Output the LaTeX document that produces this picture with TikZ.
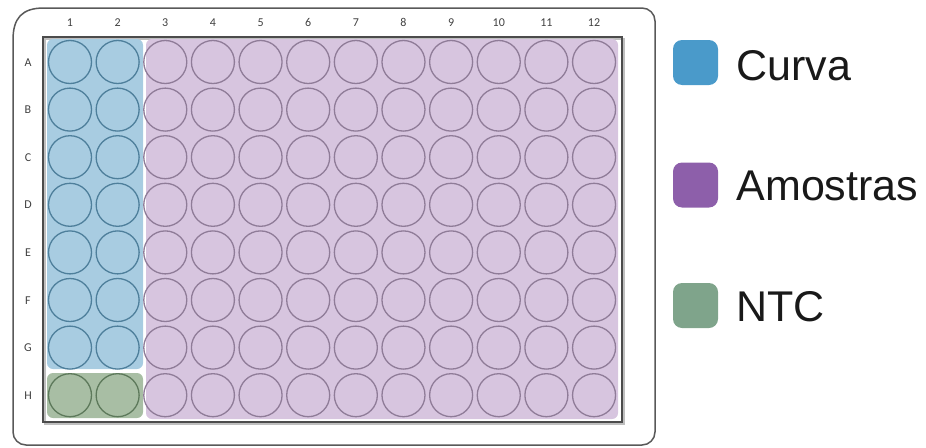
\documentclass[tikz,border=0pt]{standalone}
\usepackage{fontspec}
\setmainfont{Liberation Sans}
\newfontfamily\labfont{Carlito}
\begin{document}
\begin{tikzpicture}[x=1pt,y=-1pt,
  well/.style={circle,draw,line width=1.3pt,minimum size=43pt,inner sep=0pt},
  bluewell/.style={well,draw=wellblue},
  greenwell/.style={well,draw=wellgreen},
  purplewell/.style={well,draw=wellpurple},
  lab/.style={font=\labfont\fontsize{12}{13}\selectfont,text=black!75,text height=8pt,text depth=0pt},
  legbox/.style={rectangle,rounded corners=9pt,minimum size=45pt,inner sep=0pt},
  legtext/.style={anchor=west,font=\fontsize{43}{46}\selectfont,text=black!90}]
\definecolor{regblue}{HTML}{A8CCE1}
\definecolor{reggreen}{HTML}{A8BEA4}
\definecolor{regpurple}{HTML}{D7C5DF}
\definecolor{wellblue}{HTML}{4E7F9B}
\definecolor{wellgreen}{HTML}{5D795B}
\definecolor{wellpurple}{HTML}{8F7C98}
\definecolor{legblue}{HTML}{4A9ACA}
\definecolor{legpurple}{HTML}{8D5FAA}
\definecolor{leggreen}{HTML}{7FA48B}
\useasboundingbox (0,0) rectangle (926,447);
% outer frame
\draw[line width=1.5pt,draw=black!65]
  (13,40) .. controls (13,18) and (22,8) .. (44,8)
  [rounded corners=13pt] -- (655,8) -- (655,445) -- (13,445) -- (13,40);
% inner plate rectangle with shadow
\draw[line width=2pt,draw=black!25] (45,39) rectangle (624,424);
\draw[line width=1.4pt,draw=black!70] (43,37) rectangle (622,422);
% regions
\fill[regblue,rounded corners=6pt] (47,39) rectangle (143,369);
\fill[reggreen,rounded corners=6pt] (47,373) rectangle (143,418);
\fill[regpurple,rounded corners=6pt] (146,39) rectangle (618,419);
% column labels
\foreach \c in {1,...,12}{
  \node[lab] (col\c) at ({70+(\c-1)*47.64},22) {\c};
}
% row labels and wells
\foreach \r [count=\i from 0] in {A,B,C,D,E,F,G,H}{
  \node[lab] (row\r) at (28,{62+\i*47.6}) {\r};
  \foreach \c in {1,...,12}{
    \ifnum\c<3
      \ifnum\i=7
        \node[greenwell] (w\r\c) at ({70+(\c-1)*47.64},{62+\i*47.6}) {};
      \else
        \node[bluewell] (w\r\c) at ({70+(\c-1)*47.64},{62+\i*47.6}) {};
      \fi
    \else
      \node[purplewell] (w\r\c) at ({70+(\c-1)*47.64},{62+\i*47.6}) {};
    \fi
  }
}
% legend
\node[legbox,fill=legblue] (lb) at (695.5,62.5) {};
\node[legbox,fill=legpurple] (lp) at (695.5,185) {};
\node[legbox,fill=leggreen] (lg) at (695.5,305.5) {};
\node[legtext] (tb) at (733,66) {Curva};
\node[legtext] (tp) at (733,186) {Amostras};
\node[legtext] (tg) at (733,307) {NTC};
\end{tikzpicture}
\end{document}
